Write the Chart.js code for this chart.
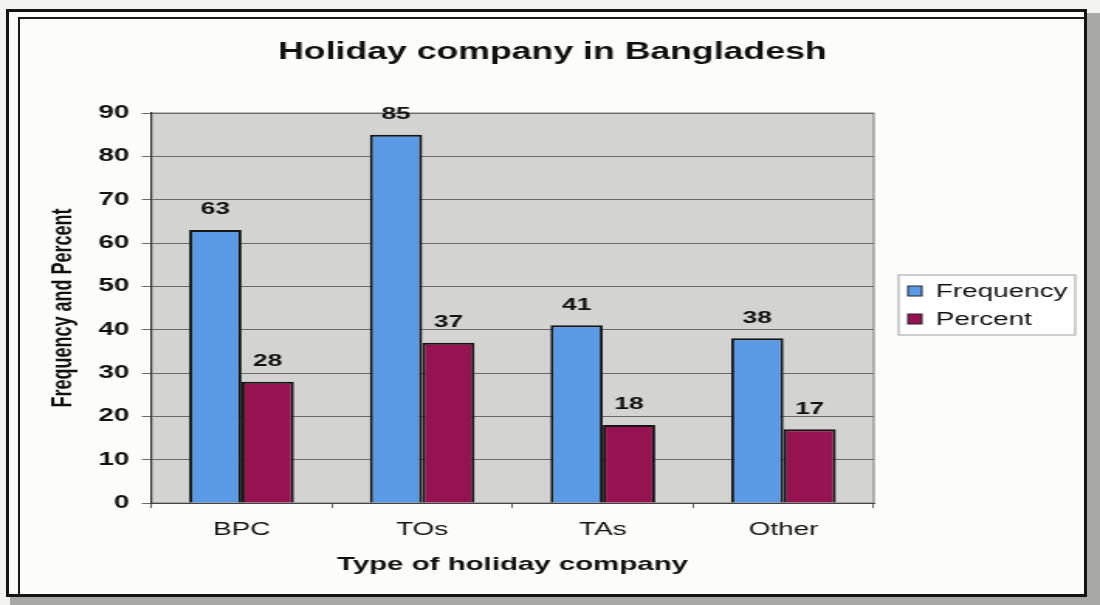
<!DOCTYPE html>
<html>
<head>
<meta charset="utf-8">
<title>Holiday company in Bangladesh</title>
<script src="https://cdn.jsdelivr.net/npm/chart.js@4.4.1/dist/chart.umd.min.js"></script>
<style>
  html, body { margin: 0; padding: 0; }
  body { width: 1100px; height: 605px; background: #f3f3f1; position: relative; overflow: hidden; }
  #shade { position: absolute; left: 10px; top: 13px; width: 1090px; height: 592px; background: #a8a8a6; }
  #paper { position: absolute; left: 6px; top: 9px; width: 1075px; height: 582px; background: #fcfcfa; border: 3px solid #141414; }
  #inset { position: absolute; left: 18px; top: 17px; width: 1064px; height: 575px; border-left: 2px solid #1c1c1c; border-top: 2px solid #1c1c1c; }
  #chart { position: absolute; left: 0; top: 0; }
</style>
</head>
<body>
<div id="shade"></div>
<div id="paper"></div>
<div id="inset"></div>
<!-- drawn on a narrow canvas and stretched sideways, like the printed figure -->
<canvas id="chart" width="710" height="605" style="width:1100px;height:605px"></canvas>
<script>
const categories = ['BPC', 'TOs', 'TAs', 'Other'];
const frequency = [63, 85, 41, 38];
const percent = [28, 37, 18, 17];
const seriesNames = ['Frequency', 'Percent'];
const seriesColors = ['#5a9ae4', '#961352'];
const yMin = 0, yMax = 90, yStep = 10;

const chartTitle = 'Holiday company in Bangladesh';
const xTitle = 'Type of holiday company';
const yTitle = 'Frequency and Percent';

const FONT = "'Liberation Sans', Arial, Helvetica, sans-serif";
Chart.defaults.font.family = FONT;
Chart.defaults.color = '#111';

// grey plot background + frame
const plotBackground = {
    id: 'plotBackground',
    beforeDraw(chart) {
        const {ctx, chartArea: a} = chart;
        ctx.save();
        ctx.fillStyle = '#d3d3d2';
        ctx.fillRect(a.left, a.top, a.right - a.left, a.bottom - a.top);
        ctx.strokeStyle = '#777';
        ctx.lineWidth = 1;
        ctx.strokeRect(a.left, a.top, a.right - a.left, a.bottom - a.top);
        ctx.restore();
    }
};

// numbers above every bar
const barValues = {
    id: 'barValues',
    afterDatasetsDraw(chart) {
        const ctx = chart.ctx;
        ctx.save();
        ctx.font = 'bold 17px ' + FONT;
        ctx.fillStyle = '#111';
        ctx.textAlign = 'center';
        ctx.textBaseline = 'middle';
        chart.data.datasets.forEach((ds, i) => {
            chart.getDatasetMeta(i).data.forEach((bar, j) => {
                ctx.fillText(ds.data[j], bar.x, bar.y - 20.5);
            });
        });
        ctx.restore();
    }
};

// title at the top and the boxed legend on the right
const titleAndLegend = {
    id: 'titleAndLegend',
    afterDraw(chart) {
        const ctx = chart.ctx;
        ctx.save();
        ctx.fillStyle = '#111';
        ctx.font = 'bold 23px ' + FONT;
        ctx.textAlign = 'center';
        ctx.textBaseline = 'middle';
        ctx.fillText(chartTitle, 356.5, 53);

        const lx = 580, ly = 275, lw = 114, lh = 60;
        ctx.fillStyle = '#ffffff';
        ctx.fillRect(lx, ly, lw, lh);
        ctx.strokeStyle = '#a0a0a0';
        ctx.lineWidth = 1;
        ctx.strokeRect(lx, ly, lw, lh);

        ctx.font = '18px ' + FONT;
        ctx.textAlign = 'left';
        chart.data.datasets.forEach((ds, i) => {
            const cy = 291 + i * 28;
            ctx.fillStyle = ds.backgroundColor;
            ctx.fillRect(586, cy - 5, 9, 10);
            ctx.strokeStyle = '#222';
            ctx.strokeRect(586, cy - 5, 9, 10);
            ctx.fillStyle = '#111';
            ctx.fillText(ds.label, 604, cy + 1);
        });
        ctx.restore();
    }
};

const datasets = [frequency, percent].map((values, i) => ({
    label: seriesNames[i],
    data: values,
    backgroundColor: seriesColors[i],
    borderColor: '#151515',
    borderWidth: 2,
    categoryPercentage: 0.58,
    barPercentage: 1.0
}));

new Chart(document.getElementById('chart'), {
    type: 'bar',
    data: { labels: categories, datasets: datasets },
    options: {
        responsive: false,
        devicePixelRatio: 1,
        animation: false,
        layout: { padding: { left: 26, right: 146, top: 113, bottom: 22 } },
        plugins: {
            legend: { display: false },
            title: { display: false },
            tooltip: { enabled: false }
        },
        scales: {
            x: {
                grid: { drawOnChartArea: false, drawTicks: true, tickLength: 5, color: '#666' },
                border: { color: '#444', width: 1 },
                ticks: { color: '#111', font: { size: 18 }, padding: 11 },
                title: {
                    display: true, text: xTitle, color: '#111',
                    font: { size: 19, weight: 'bold' }, padding: { top: 4, bottom: 7 }
                },
                afterFit(scale) { scale.height = 80; }
            },
            y: {
                min: yMin,
                max: yMax,
                ticks: { stepSize: yStep, color: '#111', font: { size: 18, weight: 'bold' }, padding: 8 },
                grid: { color: '#6a6a6a', lineWidth: 1, tickLength: 6 },
                border: { color: '#333', width: 1.2 },
                title: {
                    display: true, text: yTitle, color: '#111',
                    font: { size: 18, weight: 'bold' }, padding: { top: 4, bottom: 4 }
                },
                afterFit(scale) { scale.width = 71.6; }
            }
        }
    },
    plugins: [plotBackground, barValues, titleAndLegend]
});
</script>
</body>
</html>
